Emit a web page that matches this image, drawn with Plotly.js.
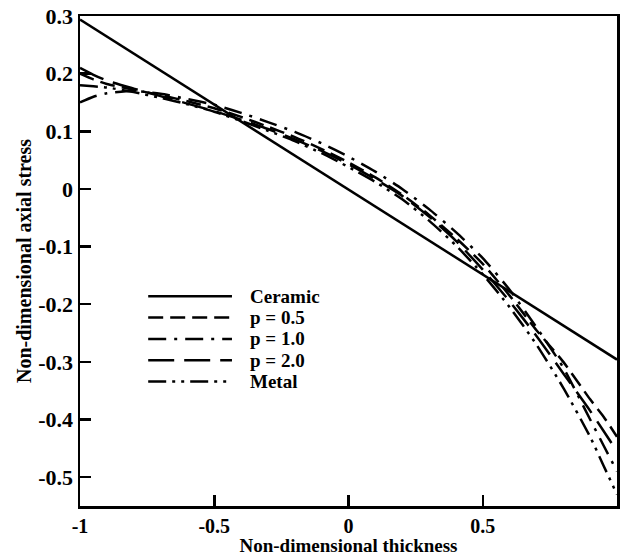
<!DOCTYPE html>
<html>
<head>
<meta charset="utf-8">
<script src="https://cdn.plot.ly/plotly-3.0.1.min.js"></script>
<style>html,body{margin:0;padding:0;background:#fff;}#chart{width:621px;height:556px;}</style>
</head>
<body>
<div id="chart"></div>
<script>
// ---- data ----
const thickness = [-1, -0.95, -0.9, -0.8, -0.7, -0.6, -0.5, -0.4, -0.3, -0.2, -0.1, 0, 0.1, 0.2, 0.3, 0.4, 0.5, 0.6, 0.7, 0.8, 0.9, 0.95, 1];
const ceramicX = [-1, 1];
const ceramic = [0.294, -0.296];
const p05 = [0.200, 0.190, 0.182, 0.172, 0.163, 0.152, 0.140, 0.125, 0.108, 0.090, 0.069, 0.046, 0.020, -0.010, -0.045, -0.085, -0.130, -0.185, -0.245, -0.300, -0.365, -0.395, -0.430];
const p10 = [0.150, 0.160, 0.166, 0.170, 0.165, 0.156, 0.146, 0.132, 0.116, 0.099, 0.079, 0.056, 0.030, 0.000, -0.035, -0.075, -0.120, -0.175, -0.240, -0.310, -0.400, -0.445, -0.490];
const p20 = [0.210, 0.198, 0.188, 0.174, 0.161, 0.148, 0.135, 0.120, 0.104, 0.086, 0.066, 0.043, 0.017, -0.012, -0.048, -0.090, -0.140, -0.195, -0.255, -0.320, -0.385, -0.420, -0.455];
const metal = [0.180, 0.178, 0.176, 0.168, 0.158, 0.147, 0.134, 0.118, 0.101, 0.083, 0.062, 0.038, 0.012, -0.018, -0.055, -0.098, -0.148, -0.205, -0.270, -0.345, -0.430, -0.480, -0.530];
const seriesNames = ["Ceramic", "p = 0.5", "p = 1.0", "p = 2.0", "Metal"];
const xTickVals = [-1, -0.5, 0, 0.5, 1];
const xTickText = ["-1", "-0.5", "0", "0.5", "1"];
const yTickVals = [0.3, 0.2, 0.1, 0, -0.1, -0.2, -0.3, -0.4, -0.5];
const yTickText = ["0.3", "0.2", "0.1", "0", "-0.1", "-0.2", "-0.3", "-0.4", "-0.5"];

// ---- styles ----
const dashes = ["solid", "15px,7px", "18px,8px,3px,8px", "26px,10px", "18px,6px,3px,6px,3px,6px"];
const W = 2.5;
const FONT = "Liberation Serif, Times New Roman, serif";

const xs = [ceramicX, thickness, thickness, thickness, thickness];
const ys = [ceramic, p05, p10, p20, metal];
const traces = ys.map((y, i) => ({
  x: xs[i], y: y, type: "scatter", mode: "lines", name: seriesNames[i],
  line: {color: "#000", width: W, dash: dashes[i], shape: i === 0 ? "linear" : "spline", smoothing: 0.6},
  showlegend: false, hoverinfo: "skip"
}));

// manual legend (long line samples as in the reference)
const shapes = [], annotations = [];
const lx0 = 0.127, lx1 = 0.283, ly0 = 0.428, lstep = 0.0435;
seriesNames.forEach((n, i) => {
  const yy = ly0 - i * lstep;
  shapes.push({type: "line", xref: "paper", yref: "paper", x0: lx0, x1: lx1, y0: yy, y1: yy,
    line: {color: "#000", width: W, dash: dashes[i]}});
  annotations.push({xref: "paper", yref: "paper", x: 0.314, y: yy, xanchor: "left", yanchor: "middle",
    text: n, showarrow: false, borderpad: 0, font: {family: FONT, size: 19, color: "#000", weight: "bold"}});
});

const axisCommon = {
  showline: true, linecolor: "#000", linewidth: 2.5, mirror: true,
  ticks: "inside", ticklen: 11, tickwidth: 2.5, tickcolor: "#000",
  showgrid: false, zeroline: false
};

const layout = {
  width: 621, height: 556,
  margin: {l: 80, r: 4, t: 16, b: 50},
  paper_bgcolor: "#fff", plot_bgcolor: "#fff",
  showlegend: false,
  xaxis: Object.assign({}, axisCommon, {
    range: [-1, 1], tickmode: "array", tickvals: xTickVals, ticktext: xTickText,
    tickfont: {family: FONT, size: 20, color: "#000", weight: "bold"},
    title: {text: "Non-dimensional thickness", standoff: 0, font: {family: FONT, size: 19, color: "#000", weight: "bold"}}
  }),
  yaxis: Object.assign({}, axisCommon, {
    range: [-0.55, 0.3], tickmode: "array", tickvals: yTickVals, ticktext: yTickText,
    tickfont: {family: FONT, size: 22, color: "#000", weight: "bold"},
    title: {text: "Non-dimensional axial stress", standoff: 2, font: {family: FONT, size: 20, color: "#000", weight: "bold"}}
  }),
  shapes: shapes, annotations: annotations
};

Plotly.newPlot("chart", traces, layout, {displayModeBar: false, staticPlot: true});
</script>
</body>
</html>
